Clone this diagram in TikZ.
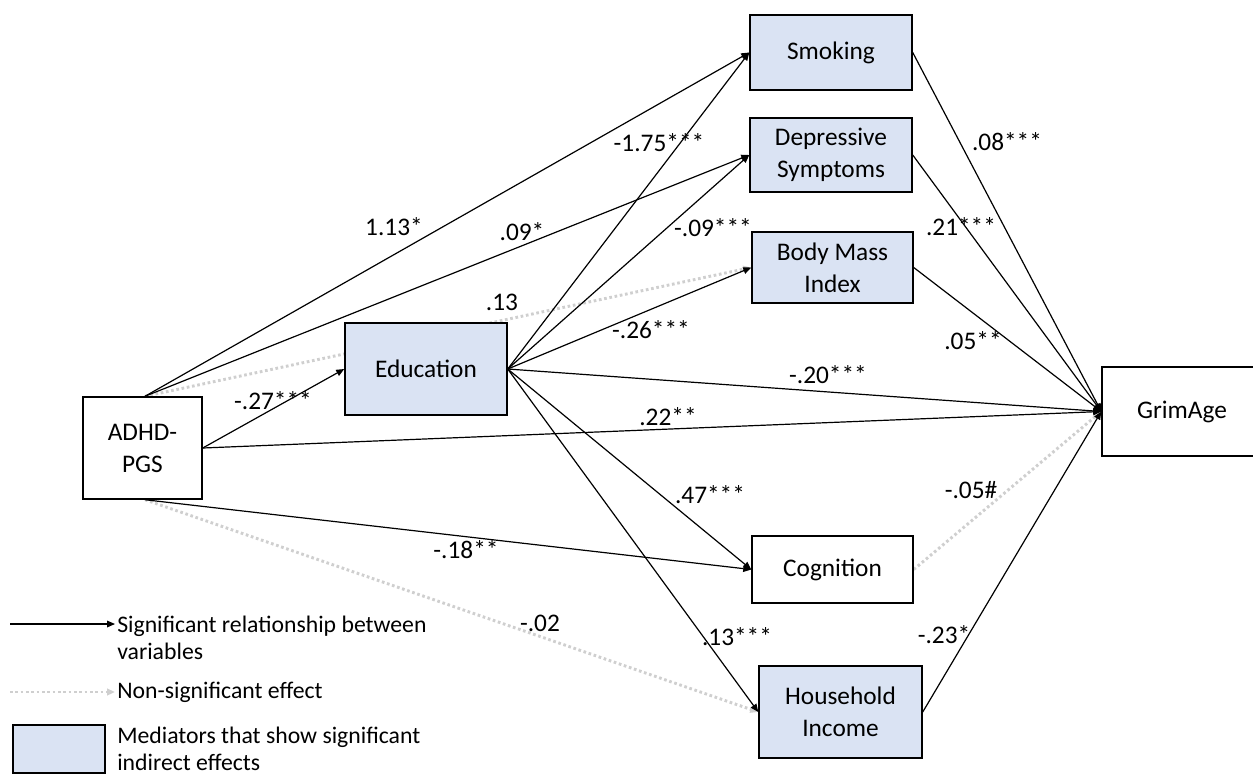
\documentclass[tikz,border=0pt]{standalone}
\usepackage{fontspec}
\setmainfont{Carlito}
\usetikzlibrary{arrows.meta,backgrounds}
\definecolor{medfill}{HTML}{DAE3F3}
\definecolor{nsgray}{HTML}{CFCFCF}
\begin{document}
\begin{tikzpicture}[x=0.75pt,y=-0.75pt,
 box/.style={draw=black,line width=1.1pt,inner sep=0pt,align=center,font=\fontsize{19}{24}\selectfont},
 med/.style={box,fill=medfill},
 lbl/.style={inner sep=0pt,font=\fontsize{19}{24}\selectfont},
 sig/.style={draw=black,line width=0.9pt,-{Triangle[length=6pt,width=5pt]}},
 ns/.style={draw=nsgray,line width=2.2pt,dash pattern=on 2pt off 2pt,-{Triangle[length=6pt,width=5pt,fill=nsgray]}},
 leg/.style={inner sep=0pt,anchor=west,align=left,font=\fontsize{17.8}{20.5}\selectfont}]
\useasboundingbox (0,0) rectangle (1253,776);

% nodes
\node[box,minimum width=89.25pt,minimum height=76.5pt] (adhd) at (142.5,448) {ADHD-\\PGS};
\node[med,minimum width=121.5pt,minimum height=69pt] (edu) at (426,369) {Education};
\node[med,minimum width=121.5pt,minimum height=56.25pt] (smk) at (831,52.5) {Smoking};
\node[med,minimum width=121.5pt,minimum height=55.5pt] (dep) at (831,155) {Depressive\\Symptoms};
\node[med,minimum width=120.75pt,minimum height=53.25pt] (bmi) at (832.5,267.5) {Body Mass\\Index};
\node[box,minimum width=120pt,minimum height=66.75pt] (grim) at (1182,411.5) {GrimAge};
\node[box,minimum width=120.75pt,minimum height=50.25pt] (cog) at (832.5,569.5) {Cognition};
\node[med,minimum width=122.25pt,minimum height=69pt] (inc) at (840.5,712) {Household\\Income};

\coordinate (adhdT) at ([xshift=1.9pt]adhd.north);
\coordinate (adhdB) at ([xshift=1.9pt]adhd.south);

\begin{scope}[on background layer]
\draw[ns] (adhdT) -- (bmi.west);
\draw[ns] (adhdB) -- (inc.west);
\draw[ns] (cog.east) -- (grim.west);
\draw[sig] (adhdT) -- (smk.west);
\draw[sig] (adhdT) -- (dep.west);
\draw[sig] (adhd.east) -- (edu.west);
\draw[sig] (adhd.east) -- (grim.west);
\draw[sig] (adhdB) -- (cog.west);
\draw[sig] (edu.east) -- (smk.west);
\draw[sig] (edu.east) -- (dep.west);
\draw[sig] (edu.east) -- (bmi.west);
\draw[sig] (edu.east) -- (grim.west);
\draw[sig] (edu.east) -- (cog.west);
\draw[sig] (edu.east) -- (inc.west);
\draw[sig] (smk.east) -- (grim.west);
\draw[sig] (dep.east) -- (grim.west);
\draw[sig] (bmi.east) -- (grim.west);
\draw[sig] (inc.east) -- (grim.west);
\end{scope}

% labels
\node[lbl] (l1) at (394,227) {1.13*};
\node[lbl] (l2) at (522,232) {.09*};
\node[lbl] (l3) at (502,302) {.13};
\node[lbl] (l4) at (273,401) {-.27***};
\node[lbl] (l5) at (659,143) {-1.75***};
\node[lbl] (l6) at (713,228) {-.09***};
\node[lbl] (l7) at (651,330) {-.26***};
\node[lbl] (l8) at (828,375) {-.20***};
\node[lbl] (l9) at (668,417) {.22**};
\node[lbl] (l10) at (710,495) {.47***};
\node[lbl] (l11) at (466,550) {-.18**};
\node[lbl] (l12) at (540,623) {-.02};
\node[lbl] (l13) at (737,637) {.13***};
\node[lbl] (l14) at (1007,142) {.08***};
\node[lbl] (l15) at (961,227) {.21***};
\node[lbl] (l16) at (973,341) {.05**};
\node[lbl] (l17) at (971,490) {-.05\#};
\node[lbl] (l18) at (944,635) {-.23*};

% legend
\coordinate (s1) at (10,624);
\coordinate (s2) at (115,624);
\draw[sig] (s1) -- (s2);
\node[leg] (t1) at (117,638) {Significant relationship between\\variables};
\coordinate (n1) at (10,692);
\coordinate (n2) at (115,692);
\draw[ns] (n1) -- (n2);
\node[leg] (t2) at (117,692) {Non-significant effect};
\node[med,minimum width=69pt,minimum height=36pt] (lbox) at (59,749) {};
\node[leg] (t3) at (117,749) {Mediators that show significant\\indirect effects};
\end{tikzpicture}
\end{document}
